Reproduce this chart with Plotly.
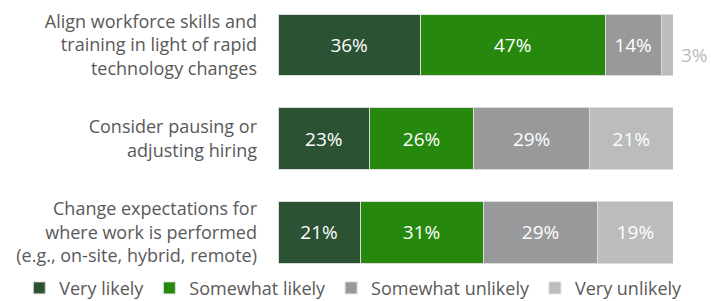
import plotly.graph_objects as go

categories = [
    "Align workforce skills and<br>training in light of rapid<br>technology changes",
    "Consider pausing or<br>adjusting hiring",
    "Change expectations for<br>where work is performed<br>(e.g., on-site, hybrid, remote)",
]
series_names = ["Very likely", "Somewhat likely", "Somewhat unlikely", "Very unlikely"]
very_likely = [36.0, 23.2, 20.8]
somewhat_likely = [46.8, 26.3, 31.1]
somewhat_unlikely = [14.2, 29.4, 29.1]
very_unlikely = [3.0, 21.1, 19.0]
colors = ["#2C5234", "#26890D", "#97999B", "#BBBCBC"]

series = [very_likely, somewhat_likely, somewhat_unlikely, very_unlikely]

fig = go.Figure()
for name, vals, col in zip(series_names, series, colors):
    texts = [f"{v:.0f}%" if v >= 8 else "" for v in vals]
    fig.add_trace(go.Bar(
        y=categories, x=vals, name=name, orientation="h",
        marker=dict(color=col, line=dict(color="#DCDCDC", width=1)),
        text=texts, textposition="inside", insidetextanchor="middle",
        textfont=dict(color="white", size=19, family="Open Sans"),
        hoverinfo="skip",
    ))

# small value label outside the first bar
cum = sum(s[0] for s in series)
fig.add_annotation(x=cum, y=0, xref="x", yref="y", text=f"{very_unlikely[0]:.0f}%",
                   showarrow=False, xanchor="left", xshift=6, yshift=-10,
                   font=dict(color="#BBBCBC", size=19, family="Open Sans"))

fig.update_layout(
    barmode="stack",
    bargap=0.34,
    width=711, height=301,
    margin=dict(l=278, r=38, t=10, b=31, autoexpand=False),
    plot_bgcolor="white", paper_bgcolor="white",
    font=dict(family="Open Sans", size=18, color="#595959"),
    xaxis=dict(range=[0, 100], visible=False, fixedrange=True),
    yaxis=dict(range=[2.4, -0.373], showgrid=False, zeroline=False, showline=False,
               ticks="", ticklabelstandoff=20, automargin=False,
               tickfont=dict(size=18, color="#595959")),
    legend=dict(orientation="h", x=-0.655, xanchor="left", y=-0.07, yanchor="middle",
                font=dict(size=18, color="#595959"), itemwidth=30, traceorder="normal"),
    showlegend=True,
)

fig.write_html("out.html", config={"displayModeBar": False},
               post_script="document.body.style.margin='0';")
